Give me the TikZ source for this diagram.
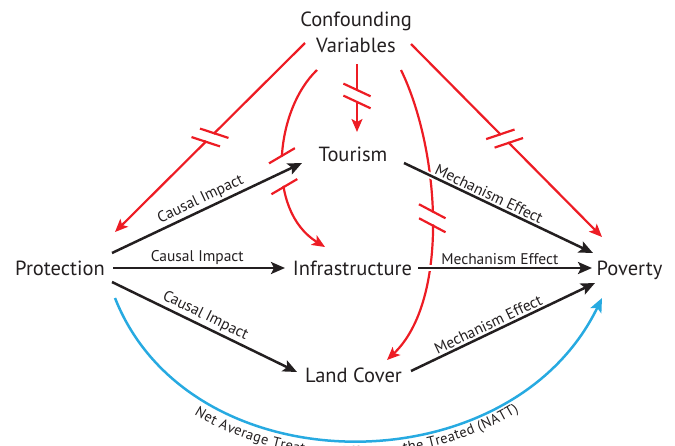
\documentclass[tikz,border=0pt]{standalone}
\usepackage{fontspec}
\setmainfont{PT Sans}
\usetikzlibrary{arrows.meta,decorations.markings,decorations.text}
\definecolor{ink}{HTML}{231F20}
\definecolor{conf}{HTML}{ED1C24}
\definecolor{nattblue}{HTML}{27AAE1}
\newcommand\varfont{\fontsize{20.5}{26}\selectfont}
\newcommand\edgefont{\fontsize{15.5}{18}\selectfont}
\newcommand\nattfont{\fontsize{14.4}{18}\selectfont}
\tikzset{
  var/.style={text=ink, font=\varfont, inner sep=0pt, anchor=base},
  effect/.style={draw=ink, line width=2.5pt, -{Stealth[length=14pt,width=12pt,inset=3pt]}},
  confound/.style={draw=conf, line width=2.2pt, -{Stealth[length=13pt,width=11pt,inset=3pt]}},
  nattline/.style={draw=nattblue, line width=2.5pt, -{Stealth[length=14pt,width=12pt,inset=3pt]}},
  lbl/.style={sloped, above, font=\edgefont, text=ink, inner sep=2pt},
  halo/.style={preaction={draw=white, line width=6pt, arrows=-}},
  % break symbol: position, bar angle to the path, gap between the bars
  brk/.style n args={3}{postaction={decorate, decoration={markings,
      mark=at position #1 with {
        \fill[white] ({-0.5*#3+1pt},-4pt) rectangle ({0.5*#3-1pt},4pt);
        \draw[conf, line width=2.2pt, arrows=-] ([shift={({-0.5*#3},0pt)}]#2:15pt) -- ([shift={({-0.5*#3},0pt)}]#2+180:15pt);
        \draw[conf, line width=2.2pt, arrows=-] ([shift={({0.5*#3},0pt)}]#2:15pt) -- ([shift={({0.5*#3},0pt)}]#2+180:15pt);
      }}}}
}
\begin{document}
\begin{tikzpicture}[x=1pt,y=-1pt]
\useasboundingbox (0,0) rectangle (675,445);
\clip (0,0) rectangle (675,445);

% variables
\node[var, anchor=center, align=center] (cv) at (356,32) {Confounding\\Variables};
\node[var] (tour) at (353,161) {Tourism};
\node[var] (infra) at (352.5,275) {Infrastructure};
\node[var] (land) at (353.5,382) {Land Cover};
\node[var] (prot) at (60,275) {Protection};
\node[var] (pov) at (629.5,275) {Poverty};

% confounding paths, each blocked
\draw[confound, brk={0.5}{-63}{12pt}] ([shift={(-51,11)}]cv.center) -- ([shift={(55,-43)}]prot.base);
\draw[confound, brk={0.47}{65}{12pt}] ([shift={(1,32)}]cv.center) -- ([shift={(4,-29)}]tour.base);
\draw[confound, brk={0.49}{64}{12pt}] ([shift={(55,12)}]cv.center) -- ([shift={(-27.5,-38)}]pov.base);
\draw[confound, brk={0.55}{-64}{31pt}] ([shift={(-39,38)}]cv.center) .. controls (275,110) and (265,210) .. ([shift={(-27.5,-28)}]infra.base);
\draw[confound, brk={0.5}{62}{14pt}] ([shift={(45,38)}]cv.center) .. controls (440,150) and (450,300) .. ([shift={(33.5,-22)}]land.base);

% causal impacts of protection
\draw[effect] ([shift={(52,-22)}]prot.base) -- node[lbl, pos=0.49] {Causal Impact} ([shift={(-51,2)}]tour.base);
\draw[effect] ([shift={(53,-7)}]prot.base) -- node[lbl, pos=0.49] {Causal Impact} ([shift={(-67.5,-7)}]infra.base);
\draw[effect] ([shift={(52,7)}]prot.base) -- node[lbl, pos=0.48] {Causal Impact} ([shift={(-56.5,-10)}]land.base);

% mechanism effects on poverty
\draw[effect, halo] ([shift={(51,2)}]tour.base) -- node[lbl, pos=0.43] {Mechanism Effect} ([shift={(-36.5,-22)}]pov.base);
\draw[effect, halo] ([shift={(65.5,-7)}]infra.base) -- node[lbl, pos=0.47] {Mechanism Effect} ([shift={(-37.5,-7)}]pov.base);
\draw[effect] ([shift={(57.5,-11)}]land.base) -- node[lbl, pos=0.44] {Mechanism Effect} ([shift={(-34.5,8)}]pov.base);

% net effect
\draw[nattline] ([shift={(55,23)}]prot.base) .. controls (190,488) and (510,488) .. ([shift={(-27.5,23)}]pov.base);
\path[decorate, decoration={text along path, text align=center, raise=-16pt,
    text={|\nattfont\color{ink}|Net Average Treatment Effect on the Treated (NATT)}}]
  ([shift={(55,23)}]prot.base) .. controls (190,488) and (510,488) .. ([shift={(-27.5,23)}]pov.base);
\end{tikzpicture}
\end{document}
